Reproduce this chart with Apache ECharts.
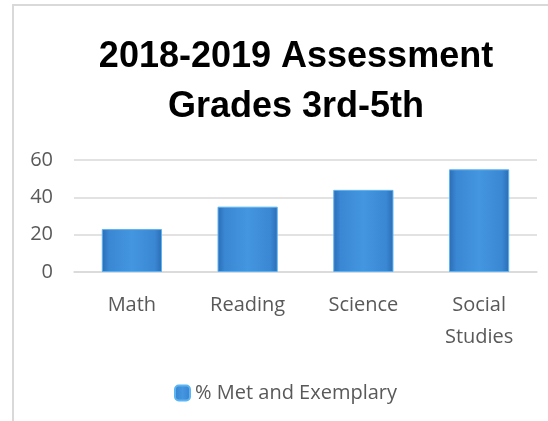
<!DOCTYPE html>
<html lang="en">
<head>
    <meta charset="UTF-8">
    <title>Assessment</title>
    <script src="https://cdn.jsdelivr.net/npm/echarts@6/dist/echarts.min.js"></script>
    <style>
        html, body { margin: 0; padding: 0; background: #fff; }
        #frame { position: absolute; left: 12px; top: 4px; right: 0; bottom: 0;
                 border-left: 2px solid #d9d9d9; border-top: 2px solid #d9d9d9; }
        #chart { position: absolute; left: 0; top: 0; width: 548px; height: 421px; }
    </style>
</head>
<body>
<div id="frame"></div>
<div id="chart"></div>
<script type="text/javascript">
    // data
    var subjects = ['Math', 'Reading', 'Science', 'Social\nStudies'];
    var metExemplary = [23, 35, 44, 55];
    var seriesName = '% Met and Exemplary';
    var yTicks = { min: 0, max: 60, interval: 20 };

    var myChart = echarts.init(document.getElementById('chart'));

    var barColor = new echarts.graphic.LinearGradient(0, 0, 1, 0, [
        { offset: 0, color: '#2b6cb3' },
        { offset: 0.12, color: '#3a87d4' },
        { offset: 0.5, color: '#4496e0' },
        { offset: 0.88, color: '#3a87d4' },
        { offset: 1, color: '#2b6cb3' }
    ]);

    myChart.setOption({
        animation: false,
        textStyle: { fontFamily: 'Open Sans' },
        title: {
            text: '2018-2019 Assessment\nGrades 3rd-5th',
            left: 291,
            textAlign: 'center',
            top: 27,
            textStyle: {
                fontFamily: 'Liberation Sans',
                fontWeight: 'bold',
                fontSize: 36,
                lineHeight: 50,
                color: '#000'
            }
        },
        legend: {
            data: [seriesName],
            left: 169,
            top: 378,
            itemWidth: 15,
            itemHeight: 15,
            textStyle: { fontFamily: 'Open Sans', fontSize: 20, color: '#595959' }
        },
        grid: { left: 74, right: 11, top: 160, height: 112 },
        xAxis: {
            type: 'category',
            data: subjects,
            axisLine: { lineStyle: { color: '#d9d9d9', width: 1.5 } },
            axisTick: { show: false },
            axisLabel: { fontFamily: 'Open Sans', fontSize: 20, color: '#595959', lineHeight: 32, margin: 17 }
        },
        yAxis: {
            type: 'value',
            min: yTicks.min,
            max: yTicks.max,
            interval: yTicks.interval,
            axisLine: { show: false },
            axisTick: { show: false },
            axisLabel: { fontFamily: 'Open Sans', fontSize: 20, color: '#595959', margin: 21 },
            splitLine: { lineStyle: { color: '#d9d9d9', width: 1.5 } }
        },
        series: [{
            name: seriesName,
            type: 'bar',
            data: metExemplary,
            barWidth: '52%',
            itemStyle: {
                color: barColor,
                borderColor: '#5cb4f2',
                borderWidth: 1
            }
        }]
    });
</script>
</body>
</html>
